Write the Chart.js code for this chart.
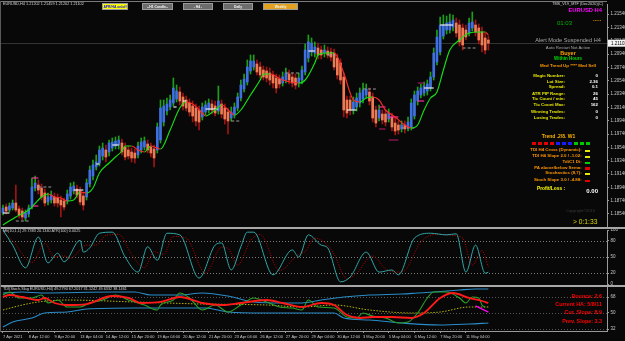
<!DOCTYPE html>
<html><head><meta charset="utf-8">
<script src="https://cdn.jsdelivr.net/npm/chart.js@4.4.1/dist/chart.umd.min.js"></script>
<style>
html,body{margin:0;padding:0;background:#080808;width:625px;height:341px;overflow:hidden}
canvas{position:absolute;left:0}
.t{position:absolute;white-space:nowrap;line-height:1;font-family:"Liberation Sans",Arial,sans-serif}
.b{font-weight:bold}
.btn{position:absolute;top:3px;height:7px;display:flex;align-items:center;justify-content:center;font-size:3.4px;font-weight:bold;box-sizing:border-box;border:1px solid #9a9a9a;white-space:nowrap;font-family:"Liberation Sans",Arial,sans-serif;background:#6c6c6c;color:#f4f4f4}
.sep{position:absolute;left:0;width:625px;height:2px;background:#a8a8a8}
.sq{position:absolute;top:142px;width:4px;height:3px}
.mk{position:absolute;left:585px;width:5px;height:2.5px}
</style></head><body>
<canvas id="c1" width="625" height="227" style="top:0"></canvas>
<canvas id="c2" width="625" height="56" style="top:229px"></canvas>
<canvas id="c3" width="625" height="54" style="top:287px"></canvas>

<div class="sep" style="top:227px"></div>
<div class="sep" style="top:285px"></div>
<div style="position:absolute;left:0;top:1px;width:607px;height:1px;background:#7a7a7a"></div>
<div style="position:absolute;left:0;top:1px;width:1px;height:331px;background:#5a5a5a"></div>

<div class="t" style="left:3px;top:3px;font-size:3.8px;color:#d8d8d8">EURUSD,H4 1.21202 1.21459 1.21202 1.21102</div>
<div class="btn" style="left:102px;width:26px;background:#ffff00;color:#1010e0">APR/HA on/off</div>
<div class="btn" style="left:142px;width:31px">--H1 Candle--</div>
<div class="btn" style="left:183px;width:30px">- H4 -</div>
<div class="btn" style="left:223px;width:30px">Daily</div>
<div class="btn" style="left:263px;width:35px;background:#e2a21f">Weekly</div>

<div class="t" style="right:22px;top:3px;font-size:3.8px;color:#d8d8d8">TMS_V19_MTF (Dec2020)(C)</div>
<div class="t b" style="right:23px;top:8px;font-size:5.8px;color:#ff00ff">EURUSD H4</div>
<div class="t" style="left:557px;top:19.5px;font-size:6px;color:#00b400">01:03</div>
<div class="t b" style="left:593px;top:16px;font-size:6px;color:#ffa500">.....</div>

<div style="position:absolute;left:508px;width:120px;top:0;text-align:center">
<div class="t" style="left:0;width:120px;top:37.7px;font-size:5.6px;color:#a8a8a8">Alert Mode Suspended H4</div>
<div class="t" style="left:0;width:120px;top:46.4px;font-size:4.3px;color:#a8a8a8">Auto Restart Not Active</div>
<div class="t b" style="left:0;width:120px;top:51.2px;font-size:5.5px;color:#ffa500">Buyer</div>
<div class="t b" style="left:0;width:120px;top:57.3px;font-size:4.5px;color:#00dd00">Within Hours</div>
<div class="t b" style="left:0;width:120px;top:64.4px;font-size:4.4px;color:#ff9a00">Med Trend Up **** Med Sell</div>
</div>

<div class="t b" style="right:60px;top:74.1px;font-size:4.4px;color:#e6e600">Magic Number:</div>
<div class="t b" style="right:60px;top:79.7px;font-size:4.4px;color:#e6e600">Lot Size:</div>
<div class="t b" style="right:60px;top:85.1px;font-size:4.4px;color:#e6e600">Spread:</div>
<div class="t b" style="right:60px;top:91.7px;font-size:4.4px;color:#e6e600">ATR PIP Range:</div>
<div class="t b" style="right:60px;top:97.4px;font-size:4.4px;color:#e6e600">Tic Count / min:</div>
<div class="t b" style="right:60px;top:103.1px;font-size:4.4px;color:#e6e600">Tic Count Max:</div>
<div class="t b" style="right:60px;top:109.7px;font-size:4.4px;color:#e6e600">Winning Trades:</div>
<div class="t b" style="right:60px;top:115.7px;font-size:4.4px;color:#e6e600">Losing Trades:</div>
<div class="t b" style="right:27px;top:74.1px;font-size:4.4px;color:#fff">0</div>
<div class="t b" style="right:27px;top:79.7px;font-size:4.4px;color:#fff">2.36</div>
<div class="t b" style="right:27px;top:85.1px;font-size:4.4px;color:#fff">0.1</div>
<div class="t b" style="right:27px;top:91.7px;font-size:4.4px;color:#fff">26</div>
<div class="t b" style="right:27px;top:97.4px;font-size:4.4px;color:#fff">45</div>
<div class="t b" style="right:27px;top:103.1px;font-size:4.4px;color:#fff">162</div>
<div class="t b" style="right:27px;top:109.7px;font-size:4.4px;color:#fff">0</div>
<div class="t b" style="right:27px;top:115.7px;font-size:4.4px;color:#fff">0</div>

<div class="t b" style="left:541.7px;top:133.7px;font-size:5px;color:#ffb400">Trend .2/8. W1</div>
<div class="sq" style="left:531.5px;background:#e00000"></div>
<div class="sq" style="left:537.5px;background:#e00000"></div>
<div class="sq" style="left:543.5px;background:#e00000"></div>
<div class="sq" style="left:549.5px;background:#e00000"></div>
<div class="sq" style="left:555.5px;background:#1a1aff"></div>
<div class="sq" style="left:561.5px;background:#1a1aff"></div>
<div class="sq" style="left:567.5px;background:#1a1aff"></div>
<div class="sq" style="left:573.5px;background:#00c800"></div>
<div class="sq" style="left:579.5px;background:#00c800"></div>
<div class="sq" style="left:585.5px;background:#00c800"></div>

<div class="t b" style="right:43.3px;top:148.1px;font-size:4.4px;color:#ff9400">TDI H4 Cross (Dynamic):</div>
<div class="t b" style="right:43.3px;top:154.1px;font-size:4.4px;color:#ff9400">TDI H4 Slope 2.0 / -1.02:</div>
<div class="t b" style="right:43.3px;top:160.1px;font-size:4.4px;color:#ff9400">TdiC1 Di:</div>
<div class="t b" style="right:43.3px;top:165.7px;font-size:4.4px;color:#ff9400">PA above/below Sema:</div>
<div class="t b" style="right:43.3px;top:171.4px;font-size:4.4px;color:#ff9400">Stochastics (8,7):</div>
<div class="t b" style="right:43.3px;top:178.1px;font-size:4.4px;color:#ff9400">Stoch Slope 3.0 / -4.88:</div>
<div class="mk" style="top:149.5px;background:#e8e800"></div>
<div class="mk" style="top:155.5px;background:#e8e800"></div>
<div class="mk" style="top:161.5px;background:#00d000"></div>
<div class="mk" style="top:167.1px;background:#e00000"></div>
<div class="mk" style="top:172.8px;background:#e8e800"></div>
<div class="mk" style="top:179.5px;background:#e00000"></div>

<div class="t b" style="left:537px;top:187.1px;font-size:4.8px;color:#ffff00">Profit/Loss :</div>
<div class="t b" style="right:27px;top:188.1px;font-size:6px;color:#ffffff">0.00</div>
<div class="t" style="right:30px;top:209.3px;font-size:4px;color:#3a3a3a">Copyright©2016</div>
<div class="t" style="left:573px;top:218.7px;font-size:6.7px;color:#d8d800">&gt; 0:1:33</div>

<div class="t" style="left:3px;top:230px;font-size:3.8px;color:#d0d0d0">Mfi(10,1,1) 29.7383 20.1340 ATR(100) 0.0025</div>
<div class="t" style="left:3px;top:288px;font-size:3.8px;color:#d0d0d0">TDI(Stoch,Slag EURUSD,H4) 49.2790 67.2017 31.1242 49.6332 38.1461</div>
<div class="t b" style="right:23px;top:293.8px;font-size:5.4px;color:#ff0000">Bounce: 2.6</div>
<div class="t b" style="right:23px;top:301.8px;font-size:5.4px;color:#ff0000">Current HA: 5/8/11</div>
<div class="t b" style="right:23px;top:310.3px;font-size:5.4px;color:#ff0000">Cur. Slope: 8.9</div>
<div class="t b" style="right:23px;top:318.6px;font-size:5.4px;color:#ff0000">Prev. Slope: 3.3</div>

<script>
// ---------- DATA ----------
const opens = [
1.18555,1.18645,1.18600,1.18630,1.18705,1.18615,1.18585,1.18480,1.18540,1.18645,
1.18930,1.18975,1.18930,1.18855,1.18720,1.18750,1.18795,1.18780,1.18750,1.18735,
1.18735,1.18810,1.18885,1.18915,1.18885,1.18810,1.18795,1.18990,1.19110,1.19245,
1.19305,1.19410,1.19500,1.19470,1.19530,1.19560,1.19575,1.19605,1.19545,1.19500,
1.19470,1.19455,1.19425,1.19500,1.19545,1.19590,1.19545,1.19515,1.19500,1.19650,
1.19920,1.20085,1.20145,1.20205,1.20265,1.20370,1.20295,1.20250,1.20205,1.20160,
1.20130,1.20100,1.19995,1.20070,1.20100,1.20190,1.20160,1.20085,1.20190,1.20130,
1.20070,1.19980,1.20025,1.20130,1.20280,1.20415,1.20520,1.20685,1.20745,1.20790,
1.20745,1.20700,1.20685,1.20655,1.20625,1.20580,1.20565,1.20505,1.20550,1.20640,
1.20595,1.20580,1.20505,1.20550,1.20670,1.20880,1.20970,1.20955,1.21030,1.21000,
1.20955,1.20985,1.20970,1.20955,1.20880,1.20805,1.20595,1.20250,1.20250,1.20100,
1.20145,1.20205,1.20265,1.20325,1.20370,1.20295,1.20100,1.19980,1.20040,1.20040,
1.19965,1.19995,1.19905,1.19875,1.19815,1.19875,1.19830,1.19845,1.20010,1.20235,
1.20325,1.20355,1.20385,1.20430,1.20595,1.20820,1.20970,1.21210,1.21300,1.21300,
1.21345,1.21405,1.21375,1.21330,1.21300,1.21255,1.21330,1.21375,1.21330,1.21270,
1.21180,1.21150];
const highs = [
1.18675,1.18690,1.18705,1.18750,1.18975,1.18660,1.18630,1.18600,1.18675,1.19080,
1.19110,1.19050,1.18990,1.18915,1.18855,1.18885,1.18855,1.18840,1.18810,1.18780,
1.18900,1.19005,1.19020,1.18975,1.18945,1.18870,1.19065,1.19260,1.19350,1.19425,
1.19560,1.19605,1.19575,1.19650,1.19680,1.19695,1.19710,1.19665,1.19605,1.19560,
1.19530,1.19515,1.19620,1.19680,1.19695,1.19650,1.19605,1.19575,1.19905,1.20250,
1.20250,1.20280,1.20325,1.20580,1.20475,1.20445,1.20355,1.20310,1.20265,1.20235,
1.20190,1.20160,1.20205,1.20235,1.20265,1.20250,1.20235,1.20460,1.20250,1.20190,
1.20130,1.20145,1.20205,1.20355,1.20550,1.20640,1.20850,1.20925,1.20925,1.20850,
1.20820,1.20760,1.20745,1.20730,1.20685,1.20640,1.20625,1.20670,1.20730,1.20700,
1.20655,1.20640,1.20655,1.20760,1.21090,1.21225,1.21180,1.21120,1.21105,1.21060,
1.21075,1.21045,1.21030,1.21015,1.20940,1.20865,1.20655,1.20310,1.20310,1.20295,
1.20355,1.20430,1.20505,1.20490,1.20430,1.20355,1.20160,1.20175,1.20100,1.20100,
1.20115,1.20055,1.19980,1.19935,1.19935,1.19935,1.19995,1.20265,1.20385,1.20445,
1.20490,1.20520,1.20550,1.20670,1.21030,1.21300,1.21495,1.21525,1.21510,1.21540,
1.21525,1.21480,1.21450,1.21390,1.21375,1.21480,1.21570,1.21450,1.21390,1.21345,
1.21255,1.21210];
const lows = [
1.18525,1.18540,1.18570,1.18600,1.18570,1.18480,1.18450,1.18435,1.18495,1.18615,
1.18885,1.18840,1.18750,1.18660,1.18675,1.18705,1.18660,1.18645,1.18495,1.18600,
1.18690,1.18765,1.18840,1.18780,1.18675,1.18600,1.18750,1.18945,1.19050,1.19200,
1.19260,1.19350,1.19320,1.19410,1.19485,1.19515,1.19515,1.19425,1.19350,1.19365,
1.19320,1.19305,1.19380,1.19455,1.19500,1.19455,1.19395,1.19245,1.19455,1.19605,
1.19860,1.20025,1.20100,1.20160,1.20220,1.20175,1.20100,1.20085,1.20010,1.19920,
1.19860,1.19800,1.19950,1.20025,1.20055,1.20040,1.20010,1.20040,1.19980,1.19890,
1.19740,1.19935,1.19980,1.20085,1.20235,1.20370,1.20475,1.20640,1.20700,1.20625,
1.20580,1.20550,1.20520,1.20475,1.20430,1.20355,1.20430,1.20460,1.20505,1.20490,
1.20445,1.20415,1.20445,1.20490,1.20625,1.20820,1.20910,1.20895,1.20865,1.20865,
1.20895,1.20880,1.20835,1.20700,1.20565,1.20490,1.19995,1.19980,1.20025,1.20040,
1.20085,1.20145,1.20205,1.20280,1.20175,1.19920,1.19845,1.19935,1.19890,1.19860,
1.19920,1.19785,1.19725,1.19740,1.19770,1.19755,1.19785,1.19800,1.19965,1.20175,
1.20280,1.20310,1.20325,1.20385,1.20550,1.20775,1.20925,1.21165,1.21240,1.21255,
1.21285,1.21195,1.21060,1.21000,1.21150,1.21210,1.21285,1.21210,1.21090,1.20970,
1.20940,1.21000];
const closes = [
1.18630,1.18585,1.18660,1.18705,1.18600,1.18525,1.18495,1.18555,1.18630,1.18945,
1.19005,1.18900,1.18795,1.18705,1.18795,1.18825,1.18705,1.18705,1.18675,1.18645,
1.18840,1.18945,1.18960,1.18825,1.18720,1.18675,1.19005,1.19200,1.19275,1.19320,
1.19500,1.19530,1.19395,1.19605,1.19620,1.19635,1.19650,1.19470,1.19395,1.19410,
1.19380,1.19380,1.19560,1.19620,1.19635,1.19500,1.19455,1.19380,1.19845,1.20130,
1.20160,1.20190,1.20250,1.20430,1.20385,1.20235,1.20160,1.20130,1.20070,1.20010,
1.19935,1.19920,1.20145,1.20175,1.20205,1.20100,1.20055,1.20235,1.20040,1.19965,
1.19935,1.20070,1.20145,1.20295,1.20475,1.20565,1.20745,1.20835,1.20835,1.20670,
1.20625,1.20595,1.20580,1.20550,1.20505,1.20430,1.20490,1.20595,1.20655,1.20550,
1.20505,1.20475,1.20580,1.20700,1.21000,1.21120,1.21105,1.21045,1.20925,1.20925,
1.21000,1.20925,1.20895,1.20745,1.20625,1.20550,1.20100,1.20055,1.20100,1.20220,
1.20280,1.20355,1.20400,1.20415,1.20235,1.19980,1.19905,1.20100,1.19950,1.19920,
1.20055,1.19845,1.19785,1.19800,1.19875,1.19815,1.19920,1.20205,1.20325,1.20385,
1.20430,1.20460,1.20490,1.20595,1.20955,1.21195,1.21375,1.21375,1.21405,1.21420,
1.21450,1.21255,1.21120,1.21075,1.21195,1.21405,1.21420,1.21270,1.21150,1.21075,
1.21000,1.21102];

// trend line [bar index, price]
const maPoints = [[0,1.18375],[4,1.18495],[8,1.18600],[12,1.18795],[14,1.18840],[16,1.18795],[18,1.18780],[20,1.18735],[22,1.18750],[24,1.18870],[26,1.18855],[28,1.18930],[30,1.19155],[33,1.19305],[35,1.19395],[37,1.19485],[38,1.19560],[40,1.19560],[42,1.19500],[44,1.19470],[46,1.19560],[48,1.19530],[49,1.19515],[52,1.19800],[55,1.20130],[57,1.20220],[59,1.20190],[62,1.20055],[63,1.20010],[66,1.20100],[68,1.20175],[71,1.20055],[72,1.20025],[74,1.20100],[77,1.20325],[80,1.20550],[81,1.20640],[83,1.20640],[87,1.20550],[92,1.20505],[94,1.20550],[97,1.20805],[98,1.20925],[100,1.20955],[103,1.20955],[106,1.20655],[108,1.20355],[109,1.20250],[111,1.20220],[113,1.20280],[115,1.20295],[117,1.20250],[119,1.20100],[122,1.19995],[125,1.19875],[127,1.19830],[129,1.19875],[131,1.20100],[133,1.20280],[135,1.20370],[137,1.20700],[139,1.21000],[142,1.21150],[145,1.21255],[148,1.21270],[150,1.21270],[151,1.21225]];

// short level markers [from bar, to bar, price, kind]  w=white g=grey p=pink d=dark pink
const levelMarks = [[0,2,1.18555,'w'],[4,8,1.18435,'g'],[11,15,1.18945,'g'],[9,11,1.19080,'p'],[9,11,1.18660,'p'],[22,25,1.18900,'w'],[29,30,1.19290,'w'],[34,36,1.19575,'w'],[53,54,1.20145,'w'],[56,57,1.20235,'w'],[63,67,1.20115,'w'],[71,74,1.19935,'g'],[88,92,1.20655,'g'],[95,97,1.20985,'w'],[101,104,1.20925,'g'],[107,110,1.20100,'w'],[112,116,1.20415,'g'],[117,119,1.20145,'p'],[117,119,1.19815,'d'],[120,123,1.19995,'p'],[120,123,1.19650,'d'],[124,128,1.19830,'g'],[129,131,1.20505,'d'],[129,131,1.20235,'p'],[131,134,1.20430,'w'],[136,140,1.21375,'w'],[143,147,1.21030,'g']];

const priceTicks = [1.2154,1.2134,1.2114,1.2094,1.2074,1.2054,1.2034,1.2014,1.1994,1.1974,1.1954,1.1934,1.1914,1.1894,1.1874,1.1854];

const mfiMain = [[0,100],[3,72],[7,30],[11,87],[14,39],[17,57],[19,41],[24,81],[25,59],[27,67],[30,94],[34,96],[38,50],[42,22],[45,69],[48,44],[51,94],[55,91],[61,11],[66,72],[68,76],[71,26],[74,69],[76,96],[78,96],[84,17],[90,63],[92,50],[95,91],[99,72],[101,67],[105,4],[108,13],[113,59],[117,22],[121,26],[123,17],[128,85],[133,94],[138,91],[141,93],[144,22],[147,72],[150,20],[151,22]];
const mfiSignal = [[0,95],[3,80],[9,40],[13,75],[16,50],[19,52],[21,48],[26,72],[29,72],[32,90],[36,92],[40,55],[44,30],[47,60],[50,55],[53,88],[57,85],[63,20],[68,68],[70,66],[73,35],[77,80],[80,92],[86,25],[92,55],[94,60],[97,85],[101,72],[103,55],[107,10],[110,20],[115,52],[119,28],[123,22],[125,25],[130,78],[135,92],[140,90],[143,85],[146,35],[149,62],[151,32]];
const mfiTicks = [100,80,50,20,0];
const mfiLevels = [80,50,20];

const tdiUpper = [[0,72.5],[6,73.6],[12,72.5],[34,73.6],[41,73.6],[46,70.25],[55,70.25],[62,72.5],[70,69.1],[78,62.4],[87,61.25],[93,61.25],[99,64.6],[106,68],[114,70.25],[124,71.4],[129,72.5],[134,73.6],[142,75.9],[147,77],[151,77]];
const tdiLower = [[0,34.25],[3,39.9],[9,44.4],[13,50],[20,51.1],[26,54.5],[41,55.6],[55,55.6],[63,55.6],[70,51.1],[81,50],[93,50],[103,50],[106,44.4],[114,42.1],[124,38.75],[136,36.5],[145,37.6],[151,38.75]];
const tdiBase = [[0,53.4],[6,59],[11,62.4],[20,64.6],[41,62.4],[62,60.1],[82,59],[93,56.75],[103,59],[114,53.4],[127,50],[136,51.1],[145,56.75],[151,56.75]];
const tdiSignal = [[0,68],[2,70.25],[6,68],[11,64.6],[13,66.9],[16,61.25],[20,59],[26,60.1],[34,69.1],[39,66.9],[43,61.25],[49,62.4],[55,68],[62,61.25],[68,59],[74,61.25],[82,64.6],[87,61.25],[93,56.75],[99,61.25],[103,59],[107,47.75],[111,44.4],[115,45.5],[121,45.5],[127,44.4],[131,50],[136,66.9],[140,72.5],[145,66.9],[149,63.5],[151,61.25]];
const tdiPrice = [[0,70.25],[2,73.6],[5,66.9],[9,66.9],[12,70.25],[14,61.25],[17,64.6],[20,56.75],[24,56.75],[27,61.25],[31,64.6],[35,70.25],[39,64.6],[44,59],[48,53.4],[49,59],[53,64.6],[55,72.5],[58,66.9],[62,53.4],[66,59],[70,51.1],[74,59],[78,66.9],[82,62.4],[86,56.75],[90,55.6],[93,53.4],[95,64.6],[98,56.75],[103,55.6],[107,45.5],[110,44.4],[112,50],[115,46.6],[119,44.4],[123,38.75],[126,39.9],[129,50],[132,66.9],[134,73.6],[138,73.6],[142,66.9],[144,61.25],[146,68],[148,66.9],[149,59],[150,56.75]];
const tdiTail = [[147,58],[151,51]];
const tdiTicks = [68,50,32];
const tdiLevels = [68,50,32];

const dateLabels = ["7 Apr 2021","8 Apr 12:00","9 Apr 20:00","13 Apr 04:00","14 Apr 12:00","15 Apr 20:00","19 Apr 04:00","20 Apr 12:00","21 Apr 20:00","23 Apr 04:00","26 Apr 12:00","27 Apr 20:00","29 Apr 04:00","30 Apr 12:00","3 May 20:00","5 May 04:00","6 May 12:00","7 May 20:00","11 May 04:00"];

// ---------- RENDER ----------
Chart.defaults.font.family = "'Liberation Sans', Arial, sans-serif";
const XMIN = -0.93, XMAX = 187.9;
const AXC = '#9a9a9a', TXC = '#c8c8c8';
const pts = a => a.map(p => ({x: p[0], y: p[1]}));
const idx = closes.map((_, i) => i);
const isBull = i => closes[i] >= opens[i];
const markStyle = {w: ['#e8e8e8', []], g: ['#9a9a9a', [3, 2]], p: ['#ff2aa0', []], d: ['#a0185a', []]};

const levelPlugin = {
  id: 'levels',
  beforeDatasetsDraw(ch, args, o) {
    if (!o.values) return;
    const {ctx, chartArea: a} = ch, y = ch.scales.y;
    ctx.save(); ctx.strokeStyle = o.color; ctx.lineWidth = 1; ctx.setLineDash(o.dash || []);
    o.values.forEach(v => { const py = Math.round(y.getPixelForValue(v)) + 0.5;
      ctx.beginPath(); ctx.moveTo(a.left, py); ctx.lineTo(a.right, py); ctx.stroke(); });
    ctx.restore();
  }
};
const bidPlugin = {
  id: 'bid',
  beforeDatasetsDraw(ch) {
    const {ctx, chartArea: a} = ch; const bid = closes[closes.length - 1];
    const py = Math.round(ch.scales.y.getPixelForValue(bid)) + 0.5;
    ctx.save(); ctx.strokeStyle = '#333'; ctx.lineWidth = 1;
    ctx.beginPath(); ctx.moveTo(a.left, py); ctx.lineTo(a.right, py); ctx.stroke(); ctx.restore();
  },
  afterDraw(ch) {
    const {ctx, chartArea: a} = ch; const bid = closes[closes.length - 1];
    const py = ch.scales.y.getPixelForValue(bid);
    ctx.save(); ctx.fillStyle = '#f4f4f4'; ctx.fillRect(a.right + 1, py - 3.5, 30, 7);
    ctx.fillStyle = '#000'; ctx.font = "4.5px 'Liberation Sans', Arial"; ctx.textBaseline = 'middle';
    ctx.fillText(bid.toFixed(5), a.right + 4, py + 0.3); ctx.restore();
  }
};

function yAxis(min, max, ticks, fmt) {
  return {
    position: 'right', min, max,
    afterFit: s => { s.width = 18; s.paddingTop = 0; s.paddingBottom = 0; },
    afterBuildTicks: s => { s.ticks = ticks.map(v => ({value: v})); },
    ticks: {color: TXC, font: {size: 4.5}, padding: 1.5, autoSkip: false, callback: fmt},
    grid: {drawOnChartArea: false, tickLength: 2, color: AXC},
    border: {color: AXC}
  };
}
const baseOpts = (pad) => ({
  responsive: false, animation: false, events: [],
  layout: {padding: pad},
  plugins: {legend: {display: false}, tooltip: {enabled: false}}
});
const lineDs = (data, color, w, extra) => Object.assign({type: 'line', data: pts(data), borderColor: color, borderWidth: w,
  pointRadius: 0, tension: 0.4, cubicInterpolationMode: 'monotone', fill: false}, extra || {});

// main price pane
const o1 = baseOpts({top: 4, bottom: 1, left: 0, right: 0});
o1.scales = {
  x: {type: 'linear', min: XMIN, max: XMAX, display: false, offset: false},
  y: yAxis(1.18360, 1.21690, priceTicks, v => v.toFixed(5))
};
const markSets = levelMarks.map(m => ({type: 'line', data: [{x: m[0], y: m[2]}, {x: m[1], y: m[2]}],
  borderColor: markStyle[m[3]][0], borderDash: markStyle[m[3]][1], borderWidth: 1.2, pointRadius: 0, tension: 0}));
new Chart(document.getElementById('c1'), {
  type: 'bar',
  data: {datasets: [
    lineDs(maPoints, '#14e014', 1.15, {segment: {borderColor: s => s.p1.parsed.y >= s.p0.parsed.y ? '#14e014' : '#ff2a2a'}}),
    ...markSets,
    {data: idx.map(i => ({x: i, y: [opens[i], closes[i]]})), backgroundColor: idx.map(i => isBull(i) ? '#3f70e2' : '#f27a52'),
     barThickness: 2, grouped: false, borderWidth: 0},
    {data: idx.map(i => ({x: i, y: [lows[i], highs[i]]})), backgroundColor: idx.map(i => isBull(i) ? '#1ca01c' : '#a01414'),
     barThickness: 1, grouped: false, borderWidth: 0}
  ]},
  options: o1, plugins: [bidPlugin]
});

// MFI pane
const o2 = baseOpts({top: 1, bottom: 1, left: 0, right: 0});
o2.plugins.levels = {values: mfiLevels, color: '#7a7a7a', dash: [1, 2]};
o2.scales = {
  x: {type: 'linear', min: XMIN, max: XMAX, display: false, offset: false},
  y: yAxis(0, 100, mfiTicks, v => String(v))
};
new Chart(document.getElementById('c2'), {
  type: 'line',
  data: {datasets: [
    lineDs(mfiMain, '#33a6a6', 1),
    lineDs(mfiSignal, '#c00000', 1, {borderDash: [1, 1.5]})
  ]},
  options: o2, plugins: [levelPlugin]
});

// TDI pane
const o3 = baseOpts({top: 0, bottom: 0, left: 0, right: 0});
o3.plugins.levels = {values: tdiLevels, color: '#555', dash: [1, 2]};
o3.scales = {
  x: {type: 'linear', min: XMIN, max: XMAX, offset: false, position: 'bottom',
      afterBuildTicks: s => { s.ticks = dateLabels.map((_, k) => ({value: k * 8})); },
      afterFit: s => { s.height = 10; s.paddingLeft = 0; s.paddingRight = 0; },
      ticks: {color: TXC, font: {size: 4}, maxRotation: 0, autoSkip: false, align: 'start', padding: 1,
              callback: v => dateLabels[Math.round(v / 8)]},
      grid: {drawOnChartArea: false, tickLength: 2, color: AXC}, border: {color: AXC}},
  y: yAxis(29.75, 79.25, tdiTicks, v => String(v))
};
new Chart(document.getElementById('c3'), {
  type: 'line',
  data: {datasets: [
    lineDs(tdiTail, '#ff00ff', 1.2),
    lineDs(tdiSignal, '#ff1a1a', 1.8),
    lineDs(tdiPrice, '#2ca02c', 1.1),
    lineDs(tdiBase, '#b8b800', 1, {borderDash: [1.5, 1.5]}),
    lineDs(tdiUpper, '#2a8cc8', 1.1),
    lineDs(tdiLower, '#2a8cc8', 1.1)
  ]},
  options: o3, plugins: [levelPlugin]
});
</script>
</body></html>
